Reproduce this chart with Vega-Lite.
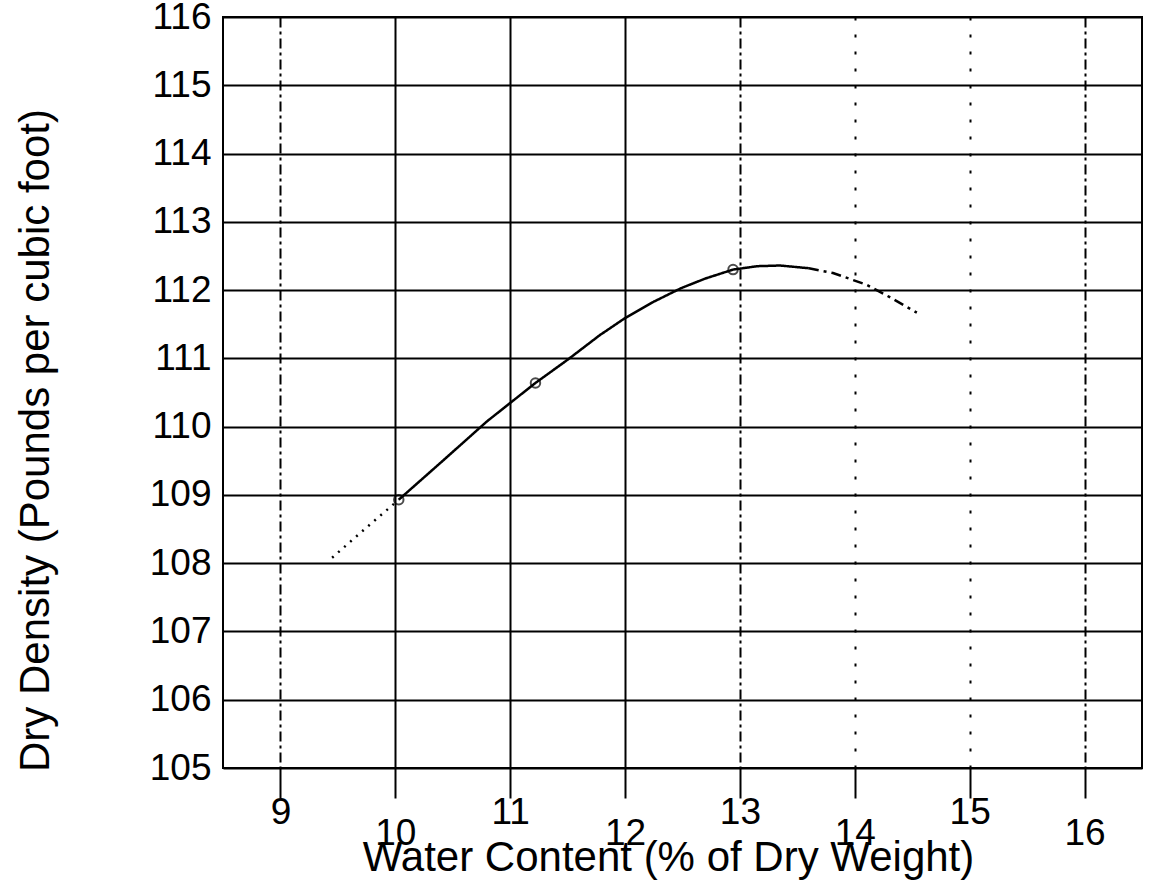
{
  "$schema": "https://vega.github.io/schema/vega-lite/v6.json",
  "width": 919,
  "height": 751,
  "autosize": {"type": "none"},
  "padding": {"left": 223, "top": 17, "right": 9, "bottom": 114},
  "background": "white",
  "config": {
    "view": {"stroke": "black", "strokeWidth": 2},
    "font": "Liberation Sans"
  },
  "datasets": {
    "curve": [
      {"water": 9.45, "density": 108.08, "segment": "dry side"},
      {"water": 9.7, "density": 108.45, "segment": "dry side"},
      {"water": 10.03, "density": 108.93, "segment": "dry side"},
      {"water": 10.03, "density": 108.93, "segment": "fit"},
      {"water": 10.4, "density": 109.48, "segment": "fit"},
      {"water": 10.8, "density": 110.08, "segment": "fit"},
      {"water": 11.22, "density": 110.64, "segment": "fit"},
      {"water": 11.5, "density": 110.98, "segment": "fit"},
      {"water": 11.78, "density": 111.34, "segment": "fit"},
      {"water": 12.0, "density": 111.59, "segment": "fit"},
      {"water": 12.25, "density": 111.83, "segment": "fit"},
      {"water": 12.49, "density": 112.03, "segment": "fit"},
      {"water": 12.7, "density": 112.17, "segment": "fit"},
      {"water": 12.94, "density": 112.3, "segment": "fit"},
      {"water": 13.15, "density": 112.35, "segment": "fit"},
      {"water": 13.35, "density": 112.36, "segment": "fit"},
      {"water": 13.6, "density": 112.32, "segment": "fit"},
      {"water": 13.6, "density": 112.32, "segment": "wet side"},
      {"water": 13.81, "density": 112.25, "segment": "wet side"},
      {"water": 14.1, "density": 112.08, "segment": "wet side"},
      {"water": 14.3, "density": 111.9, "segment": "wet side"},
      {"water": 14.54, "density": 111.67, "segment": "wet side"}
    ],
    "tests": [
      {"water": 10.03, "density": 108.93},
      {"water": 11.22, "density": 110.64},
      {"water": 12.94, "density": 112.3}
    ]
  },
  "layer": [
    {
      "data": {"name": "curve"},
      "mark": {"type": "line", "color": "black", "strokeWidth": 2.5},
      "encoding": {
        "x": {
          "field": "water", "type": "quantitative",
          "scale": {"domain": [8.5, 16.5], "nice": false, "zero": false},
          "axis": {
            "values": [9, 10, 11, 12, 13, 14, 15, 16],
            "format": "d",
            "domain": false,
            "grid": true,
            "gridColor": "black",
            "gridWidth": 2,
            "gridOpacity": 1,
            "gridDash": {
              "condition": [
                {"test": "datum.value === 9 || datum.value === 13 || datum.value === 16", "value": [10, 4, 3, 4]},
                {"test": "datum.value === 14 || datum.value === 15", "value": [3, 14]}
              ],
              "value": [1, 0]
            },
            "ticks": true,
            "tickSize": 30,
            "tickColor": "black",
            "tickWidth": 2,
            "labelFontSize": 37,
            "labelColor": "black",
            "labelPadding": {"condition": {"test": "datum.value % 2 === 0", "value": 17}, "value": -4},
            "labelBaseline": "top",
            "title": "Water Content (% of Dry Weight)",
            "titleFontSize": 42,
            "titleFontWeight": "normal",
            "titleColor": "black",
            "titleX": 445,
            "titleY": 102,
            "titleAlign": "center",
            "titleBaseline": "alphabetic"
          }
        },
        "y": {
          "field": "density", "type": "quantitative",
          "scale": {"domain": [105, 116], "nice": false, "zero": false},
          "axis": {
            "values": [105, 106, 107, 108, 109, 110, 111, 112, 113, 114, 115, 116],
            "format": "d",
            "domain": false,
            "grid": true,
            "gridColor": "black",
            "gridWidth": 2,
            "gridOpacity": 1,
            "ticks": false,
            "labelFontSize": 37,
            "labelColor": "black",
            "labelPadding": 12,
            "title": "Dry Density (Pounds per cubic foot)",
            "titleFontSize": 42,
            "titleFontWeight": "normal",
            "titleColor": "black",
            "titleAngle": -90,
            "titleX": -188,
            "titleY": 423,
            "titleAlign": "center",
            "titleBaseline": "middle"
          }
        },
        "detail": {"field": "segment"},
        "strokeDash": {
          "field": "segment", "type": "nominal",
          "scale": {"domain": ["dry side", "fit", "wet side"], "range": [[2, 6], [1, 0], [10, 5, 3, 5]]},
          "legend": null
        }
      }
    },
    {
      "data": {"name": "tests"},
      "mark": {"type": "point", "shape": "circle", "filled": false, "color": "black", "strokeWidth": 2, "size": 90},
      "encoding": {
        "x": {"field": "water", "type": "quantitative"},
        "y": {"field": "density", "type": "quantitative"}
      }
    }
  ]
}
